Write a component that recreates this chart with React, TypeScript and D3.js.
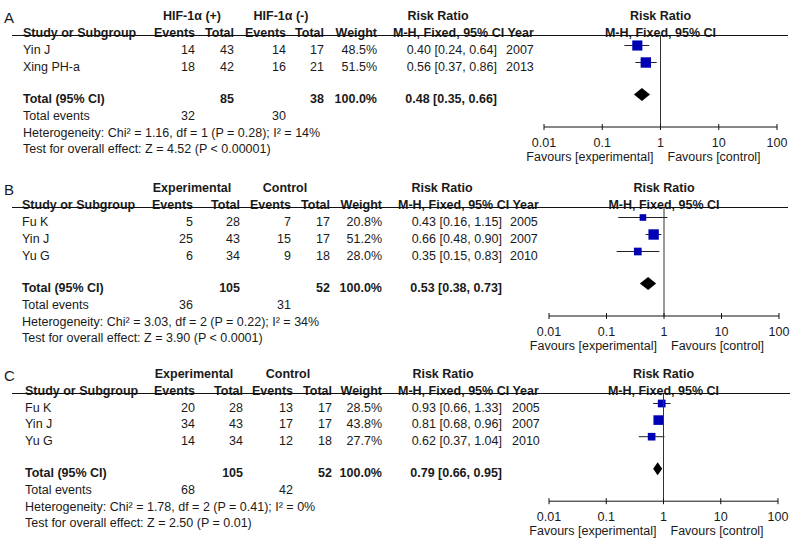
import React from "react";
import * as d3 from "d3";

// ---------- Data ----------
const panelLabels = ["A", "B", "C"];
const groupHeaders = [
  ["HIF-1α (+)", "HIF-1α (-)"],
  ["Experimental", "Control"],
  ["Experimental", "Control"],
];

const studiesA = ["Yin J", "Xing PH-a"];
const expEventsA = [14, 18];
const expTotalA = [43, 42];
const ctlEventsA = [14, 16];
const ctlTotalA = [17, 21];
const weightA = [48.5, 51.5];
const rrA = [0.4, 0.56];
const loA = [0.24, 0.37];
const hiA = [0.64, 0.86];
const yearA = [2007, 2013];

const studiesB = ["Fu K", "Yin J", "Yu G"];
const expEventsB = [5, 25, 6];
const expTotalB = [28, 43, 34];
const ctlEventsB = [7, 15, 9];
const ctlTotalB = [17, 17, 18];
const weightB = [20.8, 51.2, 28.0];
const rrB = [0.43, 0.66, 0.35];
const loB = [0.16, 0.48, 0.15];
const hiB = [1.15, 0.9, 0.83];
const yearB = [2005, 2007, 2010];

const studiesC = ["Fu K", "Yin J", "Yu G"];
const expEventsC = [20, 34, 14];
const expTotalC = [28, 43, 34];
const ctlEventsC = [13, 17, 12];
const ctlTotalC = [17, 17, 18];
const weightC = [28.5, 43.8, 27.7];
const rrC = [0.93, 0.81, 0.62];
const loC = [0.66, 0.68, 0.37];
const hiC = [1.33, 0.96, 1.04];
const yearC = [2005, 2007, 2010];

// totals: [expTotal, ctlTotal, expEvents, ctlEvents, rr, lo, hi]
const totalsA = [85, 38, 32, 30, 0.48, 0.35, 0.66];
const totalsB = [105, 52, 36, 31, 0.53, 0.38, 0.73];
const totalsC = [105, 52, 68, 42, 0.79, 0.66, 0.95];

const heterogeneity = [
  "Heterogeneity: Chi² = 1.16, df = 1 (P = 0.28); I² = 14%",
  "Heterogeneity: Chi² = 3.03, df = 2 (P = 0.22); I² = 34%",
  "Heterogeneity: Chi² = 1.78, df = 2 (P = 0.41); I² = 0%",
];
const overallTest = [
  "Test for overall effect: Z = 4.52 (P < 0.00001)",
  "Test for overall effect: Z = 3.90 (P < 0.0001)",
  "Test for overall effect: Z = 2.50 (P = 0.01)",
];

const axisTicks = [0.01, 0.1, 1, 10, 100];
const axisTickLabels = ["0.01", "0.1", "1", "10", "100"];
const favoursLeft = "Favours [experimental]";
const favoursRight = "Favours [control]";

const panelsData = [
  { studies: studiesA, expE: expEventsA, expT: expTotalA, ctlE: ctlEventsA, ctlT: ctlTotalA, w: weightA, rr: rrA, lo: loA, hi: hiA, year: yearA, totals: totalsA },
  { studies: studiesB, expE: expEventsB, expT: expTotalB, ctlE: ctlEventsB, ctlT: ctlTotalB, w: weightB, rr: rrB, lo: loB, hi: hiB, year: yearB, totals: totalsB },
  { studies: studiesC, expE: expEventsC, expT: expTotalC, ctlE: ctlEventsC, ctlT: ctlTotalC, w: weightC, rr: rrC, lo: loC, hi: hiC, year: yearC, totals: totalsC },
];

// ---------- Layout ----------
const layouts = [
  { top: 15, study: 23, expE: 195, expT: 234, ctlE: 286, ctlT: 324, w: 377, rr: 497, year: 506, mh: 393, h1a: 192, h1b: 281, rrHdr: 438, ax0: 544, ax1: 777, lineX0: 12, lineX1: 788, step: 17 },
  { top: 187, study: 22, expE: 193, expT: 240, ctlE: 291, ctlT: 330, w: 382, rr: 502, year: 510, mh: 398, h1a: 192, h1b: 285, rrHdr: 442, ax0: 549, ax1: 779, lineX0: 12, lineX1: 788, step: 17 },
  { top: 373, study: 25, expE: 195, expT: 243, ctlE: 293, ctlT: 332, w: 382, rr: 502, year: 512, mh: 398, h1a: 194, h1b: 288, rrHdr: 443, ax0: 549, ax1: 778, lineX0: 12, lineX1: 790, step: 16.6 },
];

const FONT = "'Liberation Sans', Arial, Helvetica, sans-serif";
const FS = 12.5;
const TXT = "#1a1a1a";
const BLUE = "#0000b4";
const BL = 4.5; // center -> baseline
const MK = 3.5; // marker above text center

const fmt2 = (v: number) => v.toFixed(2);
const rrText = (r: number, l: number, h: number) => `${fmt2(r)} [${fmt2(l)}, ${fmt2(h)}]`;

function Panel({ idx }: { idx: number }) {
  const d = panelsData[idx];
  const L = layouts[idx];
  const x = d3.scaleLog().domain([0.01, 100]).range([L.ax0, L.ax1]);
  const h1 = L.top;
  const h2 = L.top + 17;
  const lineY = L.top + 20.5;
  const rowY = d.studies.map((_, i) => L.top + 34 + i * L.step);
  const lastRow = rowY[rowY.length - 1];
  const totY = lastRow + 32;
  const evY = totY + 17;
  const hetY = totY + 34;
  const testY = totY + 50;
  const axY = totY + 29;
  const tickY = totY + 44;
  const favY = totY + 58;
  const one = x(1);
  const t = d.totals;
  const boxK = 1.45;

  const T = (props: any) => (
    <text fontFamily={FONT} fontSize={FS} fill={TXT} {...props} />
  );

  const diamond = d3.line()([
    [x(t[5]), totY - MK],
    [x(t[4]), totY - MK - 6.5],
    [x(t[6]), totY - MK],
    [x(t[4]), totY - MK + 6.5],
  ]) + "Z";

  return (
    <g>
      <text x={4} y={L.top + 8} fontFamily={FONT} fontSize={15} fill={TXT}>
        {panelLabels[idx]}
      </text>
      {/* header row 1 */}
      <T x={L.h1a} y={h1 + BL} textAnchor="middle" fontWeight="bold">{groupHeaders[idx][0]}</T>
      <T x={L.h1b} y={h1 + BL} textAnchor="middle" fontWeight="bold">{groupHeaders[idx][1]}</T>
      <T x={L.rrHdr} y={h1 + BL} textAnchor="middle" fontWeight="bold">Risk Ratio</T>
      <T x={one} y={h1 + BL} textAnchor="middle" fontWeight="bold">Risk Ratio</T>
      {/* header row 2 */}
      <T x={L.study} y={h2 + BL} fontWeight="bold">Study or Subgroup</T>
      <T x={L.expE} y={h2 + BL} textAnchor="end" fontWeight="bold">Events</T>
      <T x={L.expT} y={h2 + BL} textAnchor="end" fontWeight="bold">Total</T>
      <T x={L.ctlE} y={h2 + BL} textAnchor="end" fontWeight="bold">Events</T>
      <T x={L.ctlT} y={h2 + BL} textAnchor="end" fontWeight="bold">Total</T>
      <T x={L.w} y={h2 + BL} textAnchor="end" fontWeight="bold">Weight</T>
      <T x={L.mh} y={h2 + BL} fontWeight="bold">M-H, Fixed, 95% CI Year</T>
      <T x={one} y={h2 + BL} textAnchor="middle" fontWeight="bold">M-H, Fixed, 95% CI</T>
      <line x1={L.lineX0} x2={L.lineX1} y1={lineY} y2={lineY} stroke="#111" strokeWidth={1.2} />
      {/* study rows */}
      {d.studies.map((s, i) => {
        const y = rowY[i];
        const sz = boxK * Math.sqrt(d.w[i]);
        return (
          <g key={s}>
            <T x={L.study} y={y + BL}>{s}</T>
            <T x={L.expE} y={y + BL} textAnchor="end">{d.expE[i]}</T>
            <T x={L.expT} y={y + BL} textAnchor="end">{d.expT[i]}</T>
            <T x={L.ctlE} y={y + BL} textAnchor="end">{d.ctlE[i]}</T>
            <T x={L.ctlT} y={y + BL} textAnchor="end">{d.ctlT[i]}</T>
            <T x={L.w} y={y + BL} textAnchor="end">{d.w[i].toFixed(1)}%</T>
            <T x={L.rr} y={y + BL} textAnchor="end">{rrText(d.rr[i], d.lo[i], d.hi[i])}</T>
            <T x={L.year} y={y + BL}>{d.year[i]}</T>
            <line x1={x(d.lo[i])} x2={x(d.hi[i])} y1={y - MK} y2={y - MK} stroke="#222" strokeWidth={1} />
            <rect x={x(d.rr[i]) - sz / 2} y={y - MK - sz / 2} width={sz} height={sz} fill={BLUE} />
          </g>
        );
      })}
      {/* totals */}
      <T x={L.study} y={totY + BL} fontWeight="bold">Total (95% CI)</T>
      <T x={L.expT} y={totY + BL} textAnchor="end" fontWeight="bold">{t[0]}</T>
      <T x={L.ctlT} y={totY + BL} textAnchor="end" fontWeight="bold">{t[1]}</T>
      <T x={L.w} y={totY + BL} textAnchor="end" fontWeight="bold">100.0%</T>
      <T x={L.rr} y={totY + BL} textAnchor="end" fontWeight="bold">{rrText(t[4], t[5], t[6])}</T>
      <path d={diamond} fill="#000" />
      <T x={L.study} y={evY + BL}>Total events</T>
      <T x={L.expE} y={evY + BL} textAnchor="end">{t[2]}</T>
      <T x={L.ctlE} y={evY + BL} textAnchor="end">{t[3]}</T>
      <T x={L.study} y={hetY + BL}>{heterogeneity[idx]}</T>
      <T x={L.study} y={testY + BL}>{overallTest[idx]}</T>
      {/* null line */}
      <line x1={one} x2={one} y1={lineY} y2={axY} stroke="#333" strokeWidth={1} />
      {/* axis */}
      <line x1={L.ax0} x2={L.ax1} y1={axY} y2={axY} stroke="#111" strokeWidth={1} />
      {axisTicks.map((v, i) => (
        <g key={v}>
          <line x1={x(v)} x2={x(v)} y1={axY - 3} y2={axY + 3} stroke="#111" strokeWidth={1} />
          <T x={x(v)} y={tickY + BL} textAnchor="middle">{axisTickLabels[i]}</T>
        </g>
      ))}
      <T x={one - 7} y={favY + BL} textAnchor="end">{favoursLeft}</T>
      <T x={one + 7} y={favY + BL}>{favoursRight}</T>
    </g>
  );
}

export default function App() {
  return (
    <svg width={800} height={545} style={{ position: "absolute", left: 0, top: 0, background: "#fff" }}>
      <rect width={800} height={545} fill="#fff" />
      {panelLabels.map((_, i) => (
        <Panel key={i} idx={i} />
      ))}
    </svg>
  );
}
